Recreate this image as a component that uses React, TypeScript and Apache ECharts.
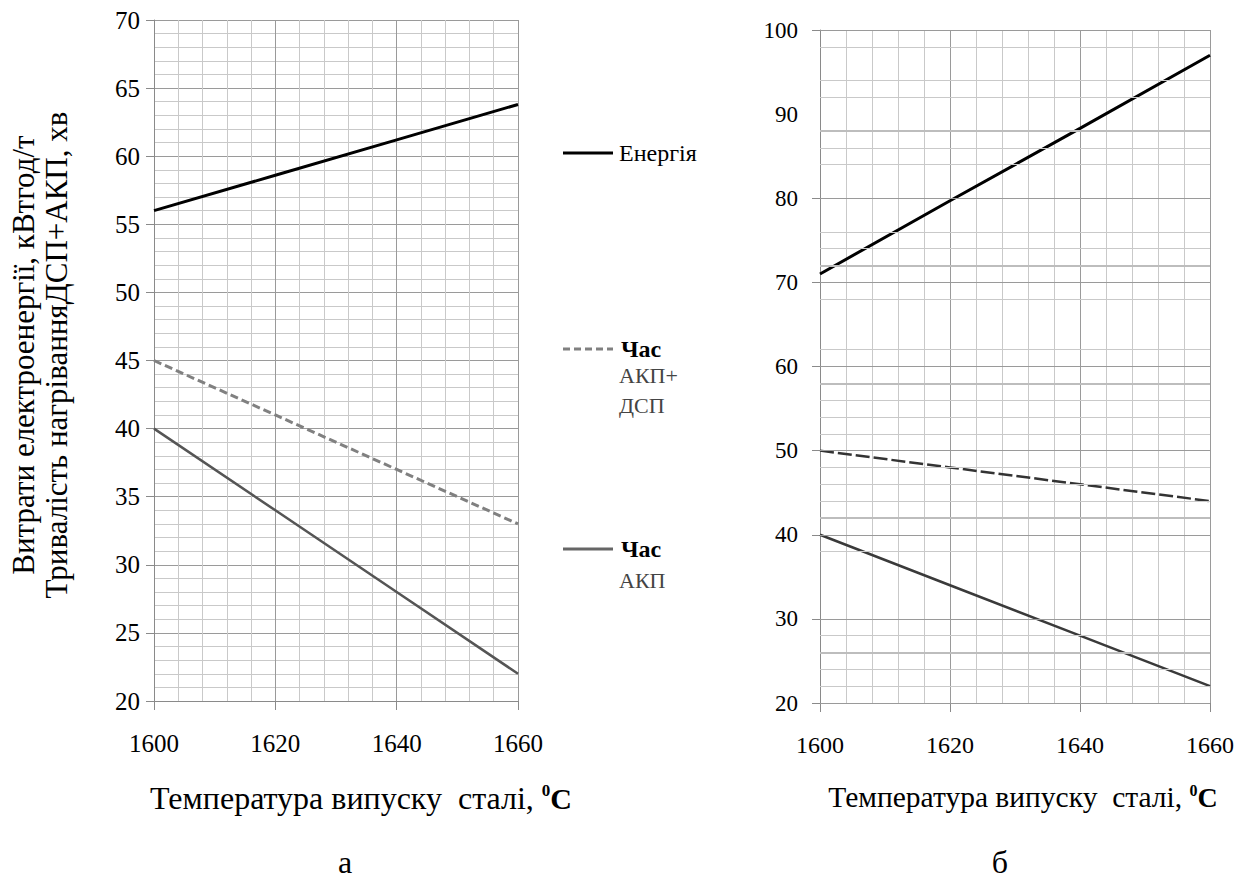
import React, { useEffect, useRef } from "react";
import * as echarts from "echarts";

// Tapping temperature, °C
const TEMPS = [1600, 1620, 1640, 1660];

// Panel "а": energy use (kWh/t) and heating times (min)
const ENERGY_A = [56, 58.6, 61.2, 63.8];
const TIME_TOTAL_A = [45, 41, 37, 33];
const TIME_AKP_A = [40, 34, 28, 22];

// Panel "б"
const ENERGY_B = [71, 79.7, 88.3, 97];
const TIME_TOTAL_B = [50, 48, 46, 44];
const TIME_AKP_B = [40, 34, 28, 22];

// Panel "б" horizontal rulings (drawn as reference lines)
const RULE_B_MAJOR = [20, 30, 40, 50, 60, 70, 80, 100];
const RULE_B_HEAVY = [26, 42, 58, 72, 88];
const RULE_B_LIGHT = [22, 24, 28, 38, 44, 46, 48, 52, 54, 56, 62, 68, 74, 76, 84, 86, 92, 94, 98];

const SERIF = "'Times New Roman', 'Liberation Serif', 'DejaVu Serif', serif";
const X_TITLE = "Температура випуску  сталі, ";
const Y_TITLE_1 = "Витрати електроенергії, кВтгод/т";
const Y_TITLE_2 = "Тривалість нагріванняДСП+АКП, хв";

const pairs = (ys: number[]) => TEMPS.map((t, i) => [t, ys[i]]);
const plain = (v: number) => String(v);

const xAxisBase = (gridIndex: number, fontSize: number) => ({
  type: "value",
  gridIndex,
  min: 1600,
  max: 1660,
  interval: 20,
  axisLine: { show: true, onZero: false, lineStyle: { color: "#8a8a8a", width: 1 } },
  axisTick: { show: true, length: 9, lineStyle: { color: "#8a8a8a" } },
  axisLabel: { color: "#000", fontFamily: SERIF, fontSize, margin: 30, formatter: plain },
  splitLine: { show: true, lineStyle: { color: "#9a9a9a", width: 1 } },
  minorTick: { show: false, splitNumber: 5 },
  minorSplitLine: { show: true, lineStyle: { color: "#c9c9c9", width: 1 } },
});

const txt = (
  x: number,
  y: number,
  text: string,
  fontSize: number,
  extra: Record<string, any> = {},
  rotation = 0
) => ({
  type: "text",
  x,
  y,
  rotation,
  style: {
    text,
    fontFamily: SERIF,
    fontSize,
    fill: "#000",
    verticalAlign: "middle",
    ...extra,
  },
});

export default function App() {
  const ref = useRef<HTMLDivElement>(null);

  useEffect(() => {
    if (!ref.current) return;
    const chart = echarts.init(ref.current, undefined, { renderer: "svg" });

    const ruleLines = (values: number[], color: string, width: number) =>
      values.map((v) => ({ yAxis: v, lineStyle: { color, width, type: "solid" } }));

    const xTitleRich = (n: number, s: number, c: number) => ({
      n: { fontFamily: SERIF, fontSize: n, color: "#000" },
      s: { fontFamily: SERIF, fontSize: s, fontWeight: "bold", color: "#000", verticalAlign: "top" },
      c: { fontFamily: SERIF, fontSize: c, fontWeight: "bold", color: "#000" },
    });

    const option: any = {
      animation: false,
      backgroundColor: "#fff",
      textStyle: { fontFamily: SERIF },
      grid: [
        { left: 154, top: 20, width: 364, height: 681 },
        { left: 820, top: 30, width: 390, height: 673 },
      ],
      xAxis: [xAxisBase(0, 25), xAxisBase(1, 24)],
      yAxis: [
        {
          type: "value",
          gridIndex: 0,
          min: 20,
          max: 70,
          interval: 5,
          axisLine: { show: true, lineStyle: { color: "#8a8a8a" } },
          axisTick: { show: true, length: 8, lineStyle: { color: "#8a8a8a" } },
          axisLabel: { color: "#000", fontFamily: SERIF, fontSize: 25, margin: 14, formatter: plain },
          splitLine: { show: true, lineStyle: { color: "#9a9a9a", width: 1 } },
          minorTick: { show: false, splitNumber: 5 },
          minorSplitLine: { show: true, lineStyle: { color: "#c9c9c9", width: 1 } },
        },
        {
          type: "value",
          gridIndex: 1,
          min: 20,
          max: 100,
          interval: 10,
          axisLine: { show: true, lineStyle: { color: "#8a8a8a" } },
          axisTick: {
            show: true,
            length: 8,
            customValues: RULE_B_MAJOR,
            lineStyle: { color: "#8a8a8a" },
          },
          axisLabel: { color: "#000", fontFamily: SERIF, fontSize: 23, margin: 22, formatter: plain },
          splitLine: { show: false },
        },
      ],
      series: [
        {
          type: "line",
          xAxisIndex: 1,
          yAxisIndex: 1,
          data: [],
          z: 1,
          silent: true,
          markLine: {
            silent: true,
            symbol: ["none", "none"],
            label: { show: false },
            animation: false,
            data: [
              ...ruleLines(RULE_B_LIGHT, "#c9c9c9", 1),
              ...ruleLines(RULE_B_HEAVY, "#bdbdbd", 2),
              ...ruleLines(RULE_B_MAJOR, "#9a9a9a", 1),
            ],
          },
        },
        {
          name: "Енергія",
          type: "line",
          xAxisIndex: 0,
          yAxisIndex: 0,
          data: pairs(ENERGY_A),
          symbol: "none",
          z: 3,
          lineStyle: { color: "#000", width: 3 },
        },
        {
          name: "Час АКП+ДСП",
          type: "line",
          xAxisIndex: 0,
          yAxisIndex: 0,
          data: pairs(TIME_TOTAL_A),
          symbol: "none",
          z: 3,
          lineStyle: { color: "#808080", width: 3, type: [8, 4] },
        },
        {
          name: "Час АКП",
          type: "line",
          xAxisIndex: 0,
          yAxisIndex: 0,
          data: pairs(TIME_AKP_A),
          symbol: "none",
          z: 3,
          lineStyle: { color: "#555", width: 2.5 },
        },
        {
          name: "Енергія б",
          type: "line",
          xAxisIndex: 1,
          yAxisIndex: 1,
          data: pairs(ENERGY_B),
          symbol: "none",
          z: 3,
          lineStyle: { color: "#000", width: 3 },
        },
        {
          name: "Час АКП+ДСП б",
          type: "line",
          xAxisIndex: 1,
          yAxisIndex: 1,
          data: pairs(TIME_TOTAL_B),
          symbol: "none",
          z: 3,
          lineStyle: { color: "#333", width: 2.5, type: [14, 4] },
        },
        {
          name: "Час АКП б",
          type: "line",
          xAxisIndex: 1,
          yAxisIndex: 1,
          data: pairs(TIME_AKP_B),
          symbol: "none",
          z: 3,
          lineStyle: { color: "#3a3a3a", width: 2.5 },
        },
      ],
      graphic: [
        // Y axis title of panel "а" (two lines, reading bottom to top)
        txt(23, 355, Y_TITLE_1, 31, { align: "center" }, Math.PI / 2),
        txt(56, 355, Y_TITLE_2, 31, { align: "center" }, Math.PI / 2),
        // X axis titles
        {
          type: "text",
          x: 361,
          y: 798,
          style: {
            text: `{n|${X_TITLE}}{s|0}{c|C}`,
            align: "center",
            verticalAlign: "middle",
            rich: xTitleRich(32, 17, 30),
          },
        },
        {
          type: "text",
          x: 1023,
          y: 797,
          style: {
            text: `{n|${X_TITLE}}{s|0}{c|C}`,
            align: "center",
            verticalAlign: "middle",
            rich: xTitleRich(29.5, 16, 28),
          },
        },
        // Panel letters
        txt(345, 862, "а", 32, { align: "center" }),
        txt(1000, 862, "б", 32, { align: "center" }),
        // Legend of panel "а"
        { type: "line", shape: { x1: 563, y1: 153, x2: 613, y2: 153 }, style: { stroke: "#000", lineWidth: 3 } },
        txt(619, 153, "Енергія", 24),
        {
          type: "line",
          shape: { x1: 563, y1: 349, x2: 613, y2: 349 },
          style: { stroke: "#808080", lineWidth: 3, lineDash: [7, 4] },
        },
        txt(621, 349, "Час", 24, { fontWeight: "bold" }),
        txt(619, 375, "АКП+", 22, { fill: "#444" }),
        txt(619, 405, "ДСП", 22, { fill: "#444" }),
        { type: "line", shape: { x1: 563, y1: 549, x2: 613, y2: 549 }, style: { stroke: "#666", lineWidth: 3 } },
        txt(621, 549, "Час", 24, { fontWeight: "bold" }),
        txt(619, 580, "АКП", 22, { fill: "#444" }),
      ],
    };

    chart.setOption(option);
    return () => chart.dispose();
  }, []);

  return (
    <div
      ref={ref}
      style={{ position: "absolute", left: 0, top: 0, width: 1252, height: 885, background: "#fff" }}
    />
  );
}
